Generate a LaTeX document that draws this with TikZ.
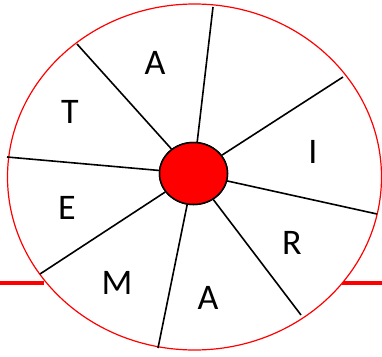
\documentclass[tikz,border=0pt]{standalone}
\usepackage{fontspec}
\setmainfont{Carlito}
\usetikzlibrary{shapes.geometric}
\begin{document}
\begin{tikzpicture}[x=1pt,y=-1pt,
  spoke/.style={draw=black,line width=1.6pt},
  letter/.style={font=\fontsize{36}{36}\selectfont},
  redline/.style={draw=red,line width=4pt}]
\useasboundingbox (0,0) rectangle (382,356);
\fill[white] (0,0) rectangle (382,356);
% base line
\coordinate (l0) at (0,283);
\coordinate (l1) at (44,283);
\coordinate (r0) at (342,283);
\coordinate (r1) at (382,283);
\draw[redline] (l0) -- (l1);
\draw[redline] (r0) -- (r1);
% wheel
\node[ellipse,draw=red,line width=1.2pt,fill=white,minimum width=374pt,minimum height=346pt,inner sep=0pt] (wheel) at (194.5,177) {};
% outer spoke ends
\coordinate (p1) at (213,7);
\coordinate (p2) at (343,77);
\coordinate (p3) at (377,214);
\coordinate (p4) at (301,315);
\coordinate (p5) at (158,348);
\coordinate (p6) at (40,274);
\coordinate (p7) at (7,157);
\coordinate (p8) at (77,44);
\node[ellipse,draw=black,line width=1.5pt,fill=red,minimum width=68pt,minimum height=62pt,inner sep=0pt] (hub) at (193.5,173.5) {};
\foreach \i in {1,...,8} \draw[spoke] (hub) -- (p\i);
\node[ellipse,draw=black,line width=1.5pt,fill=red,minimum width=68pt,minimum height=62pt,inner sep=0pt] at (193.5,173.5) {};
% letters
\node[letter] (tA) at (155,63) {A};
\node[letter] (tT) at (70,112) {T};
\node[letter] (tI) at (313,152) {I};
\node[letter] (tE) at (67,208) {E};
\node[letter] (tR) at (292,243) {R};
\node[letter] (tM) at (117,283) {M};
\node[letter] (tA2) at (208,298) {A};
\end{tikzpicture}
\end{document}
